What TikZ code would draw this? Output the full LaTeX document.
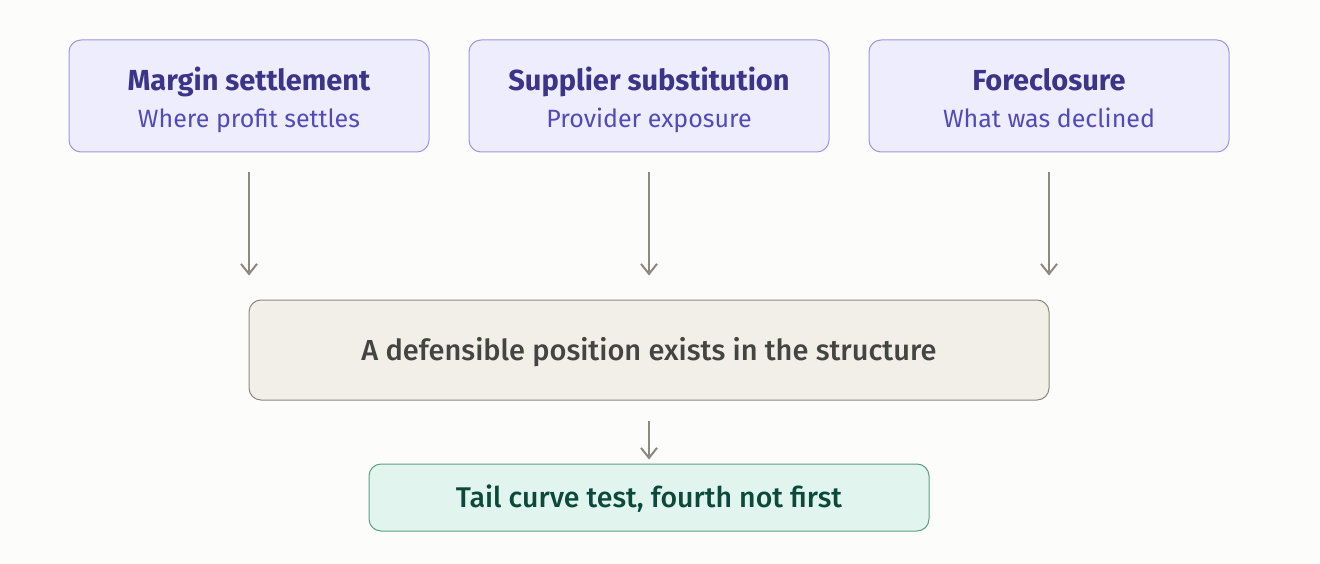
\documentclass[tikz,border=0pt]{standalone}
\usepackage{fontspec}
\setmainfont{Fira Sans}
\newfontfamily\medfont{Fira Sans Medium}
\usetikzlibrary{arrows.meta}
\definecolor{pagebg}{HTML}{FCFCFA}
\definecolor{topfill}{HTML}{EEEDFE}
\definecolor{topline}{HTML}{9D96DE}
\definecolor{toptitle}{HTML}{3C3489}
\definecolor{topsub}{HTML}{534AB7}
\definecolor{midfill}{HTML}{F1EFE8}
\definecolor{midline}{HTML}{8A8982}
\definecolor{midtext}{HTML}{444441}
\definecolor{endfill}{HTML}{E1F5EE}
\definecolor{endline}{HTML}{5E9E86}
\definecolor{endtext}{HTML}{0B4A3A}
\definecolor{arrowgray}{HTML}{8A8982}
\tikzset{
	topbox/.style={draw=topline, fill=topfill, rounded corners=12pt, line width=1pt,
		minimum width=360pt, minimum height=112pt, align=center, font=\fontsize{29}{37}\selectfont},
	midbox/.style={draw=midline, fill=midfill, rounded corners=12pt, line width=1pt,
		minimum width=800pt, minimum height=100pt, text=midtext, text height=20pt, text depth=0pt,
		font=\fontsize{29}{32}\medfont},
	endbox/.style={draw=endline, fill=endfill, rounded corners=12pt, line width=1pt,
		minimum width=560pt, minimum height=67pt, text=endtext, text height=20pt, text depth=0pt,
		font=\fontsize{28.5}{32}\medfont},
	arr/.style={draw=arrowgray, line width=2.2pt, -{Straight Barb[length=10pt,width=16pt,line width=2pt]}}
}
\newcommand{\boxtext}[2]{\rule{0pt}{34pt}{\color{toptitle}\fontsize{29}{37}\selectfont\bfseries #1}\\{\color{topsub}\fontsize{25}{37}\selectfont #2}\rule[-8pt]{0pt}{8pt}}
\begin{document}
\begin{tikzpicture}[x=1pt,y=-1pt]
		% page
		\fill[pagebg] (0,0) rectangle (1320,564);
		\useasboundingbox (0,0) rectangle (1320,564);
		% three lenses on top
		\node[topbox](margin) at (249,96) {\boxtext{Margin settlement}{Where profit settles}};
		\node[topbox](supplier) at (649,96) {\boxtext{Supplier substitution}{Provider exposure}};
		\node[topbox](foreclose) at (1049,96) {\boxtext{Foreclosure}{What was declined}};
		% middle and bottom
		\node[midbox](position) at (649,350) {A defensible position exists in the structure};
		\node[endbox](tailtest) at (649,497.5) {Tail curve test, fourth not first};
		% arrows
		\draw[arr, shorten <=20pt, shorten >=24pt](margin.south) -- (margin.south |- position.north);
		\draw[arr, shorten <=20pt, shorten >=24pt](supplier.south) -- (position.north);
		\draw[arr, shorten <=20pt, shorten >=24pt](foreclose.south) -- (foreclose.south |- position.north);
		\draw[arr, shorten <=20pt, shorten >=4pt](position.south) -- (tailtest.north);
	\end{tikzpicture}
\end{document}
